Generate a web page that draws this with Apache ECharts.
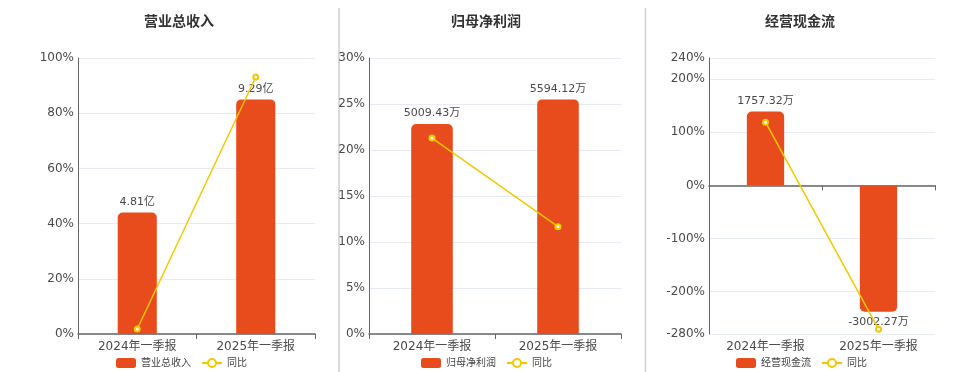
<!DOCTYPE html>
<html>
<head>
<meta charset="utf-8">
<script src="https://cdn.jsdelivr.net/npm/echarts@6/dist/echarts.min.js"></script>
<style>
html,body{margin:0;padding:0;background:#fff;}
#main{width:960px;height:372px;}
</style>
</head>
<body>
<div id="main"></div>
<script>
// ---- data ----
const categories = ['2024年一季报', '2025年一季报'];

const revenueName = '营业总收入';
const revenueValues = [4.81, 9.29];      // 亿
const revenueYoy = [1.8, 93.1];          // %

const profitName = '归母净利润';
const profitValues = [5009.43, 5594.12]; // 万
const profitYoy = [21.3, 11.67];         // %

const cashName = '经营现金流';
const cashValues = [1757.32, -3002.27];  // 万
const cashYoy = [119.1, -270.84];        // %

const yoyName = '同比';

const titles = [revenueName, profitName, cashName];
const units = ['亿', '万', '万'];

// ---- styles ----
const BAR_COLOR = '#E84C1D';
const LINE_COLOR = '#F4C800';
const AXIS_COLOR = '#666';
const LABEL_COLOR = '#4a4a4a';
const SPLIT_COLOR = '#E6EBF5';

const grids = [
  {left: 78, top: 58, width: 237, height: 276},
  {left: 369, top: 58, width: 252, height: 276},
  {left: 709, top: 58, width: 226, height: 276}
];
const centers = [174, 481, 795];
const legendLefts = [111, 416, 731];

const pctAxes = [
  {min: 0, max: 100, interval: 20},
  {min: 0, max: 30, interval: 5},
  {min: -280, max: 240, splitNumber: 5}
];
const barAxes = [
  {min: 0, max: 9.29 / 0.85},
  {min: 0, max: 5594.12 / 0.85},
  {min: -3002.27 / 0.85, max: 3002.27 / 0.85 * 240 / 280}
];

const barData = [revenueValues, profitValues, cashValues];
const yoyData = [revenueYoy, profitYoy, cashYoy];

const option = {
  animation: false,
  textStyle: {fontFamily: 'DejaVu Sans, Noto Sans CJK SC, sans-serif'},
  title: titles.map((t, i) => ({
    text: t,
    left: centers[i],
    top: 10,
    textAlign: 'center',
    textStyle: {fontSize: 14, fontWeight: 'bold', color: '#333'}
  })),
  legend: titles.map((t, i) => ({
    data: [t, yoyName],
    left: legendLefts[i],
    top: 353,
    itemWidth: 20,
    itemHeight: 10,
    itemGap: 10,
    textStyle: {fontSize: 10, color: '#444'}
  })),
  grid: grids,
  xAxis: [],
  yAxis: [],
  series: [],
  graphic: [
    {type: 'line', shape: {x1: 339, y1: 8, x2: 339, y2: 372}, style: {stroke: '#cfcfcf', lineWidth: 1.5}},
    {type: 'line', shape: {x1: 645.5, y1: 8, x2: 645.5, y2: 372}, style: {stroke: '#cfcfcf', lineWidth: 1.5}}
  ]
};

for (let i = 0; i < 3; i++) {
  const isCash = i === 2;
  option.xAxis.push({
    type: 'category',
    gridIndex: i,
    data: categories,
    axisLine: {show: true, onZero: true, lineStyle: {color: AXIS_COLOR, width: 1.5}},
    axisTick: {show: true, lineStyle: {color: AXIS_COLOR}},
    axisLabel: {show: !isCash, fontSize: 12, color: LABEL_COLOR, margin: 7}
  });
  const mainX = option.xAxis.length - 1;
  if (isCash) {
    option.xAxis.push({
      type: 'category',
      gridIndex: i,
      position: 'bottom',
      data: categories,
      axisLine: {show: false, onZero: false},
      axisTick: {show: false},
      axisLabel: {show: true, fontSize: 12, color: LABEL_COLOR, margin: 7}
    });
  }
  const pa = pctAxes[i];
  const pctAxis = {
    type: 'value',
    gridIndex: i,
    position: 'left',
    min: pa.min,
    max: pa.max,
    axisLine: {show: true, lineStyle: {color: AXIS_COLOR}},
    axisTick: {show: false},
    axisLabel: {fontSize: 12, color: LABEL_COLOR, margin: 4, formatter: '{value}%'},
    splitLine: {show: true, lineStyle: {color: SPLIT_COLOR}}
  };
  if (pa.interval) pctAxis.interval = pa.interval;
  if (pa.splitNumber) pctAxis.splitNumber = pa.splitNumber;
  option.yAxis.push(pctAxis);
  const pctIdx = option.yAxis.length - 1;
  option.yAxis.push({
    type: 'value',
    gridIndex: i,
    position: 'right',
    min: barAxes[i].min,
    max: barAxes[i].max,
    show: false,
    splitLine: {show: false}
  });
  const barIdx = option.yAxis.length - 1;

  const unit = units[i];
  option.series.push({
    name: titles[i],
    type: 'bar',
    xAxisIndex: mainX,
    yAxisIndex: barIdx,
    barWidth: '33%',
    itemStyle: {color: BAR_COLOR},
    label: {show: true, fontSize: 11, color: LABEL_COLOR, distance: 5,
            formatter: p => p.value + unit},
    data: barData[i].map(v => ({
      value: v,
      itemStyle: {borderRadius: v >= 0 ? [5, 5, 0, 0] : [0, 0, 5, 5]},
      label: {position: v >= 0 ? 'top' : 'bottom'}
    }))
  });
  option.series.push({
    name: yoyName,
    type: 'line',
    xAxisIndex: mainX,
    yAxisIndex: pctIdx,
    symbol: 'emptyCircle',
    symbolSize: 5,
    z: 5,
    lineStyle: {color: LINE_COLOR, width: 1.5},
    itemStyle: {color: LINE_COLOR, borderWidth: 1.5},
    data: yoyData[i]
  });
}

const chart = echarts.init(document.getElementById('main'), null, {renderer: 'canvas'});
chart.setOption(option);
</script>
</body>
</html>
